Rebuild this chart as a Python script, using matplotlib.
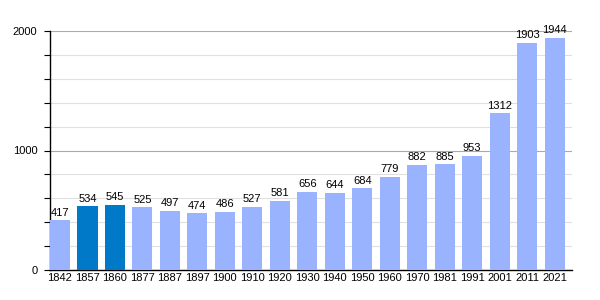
import matplotlib
matplotlib.use("Agg")
import matplotlib.pyplot as plt
from matplotlib.ticker import MultipleLocator

years = ["1842", "1857", "1860", "1877", "1887", "1897", "1900", "1910", "1920", "1930",
         "1940", "1950", "1960", "1970", "1981", "1991", "2001", "2011", "2021"]
population = [417, 534, 545, 525, 497, 474, 486, 527, 581, 656,
              644, 684, 779, 882, 885, 953, 1312, 1903, 1944]
highlight = ["1857", "1860"]

plt.rcParams['font.family'] = ['Liberation Sans', 'DejaVu Sans']
fig = plt.figure(figsize=(6, 3), dpi=100)
ax = fig.add_axes([50/600, 30/300, 522/600, 239/300])

colors = ["#0079c9" if y in highlight else "#99b3ff" for y in years]
x = list(range(len(years)))
w = 0.73
ax.bar(x, population, width=w, color=colors, zorder=3)
for xi, v in zip(x, population):
    ax.text(xi, v + 22, str(v), ha="center", va="bottom", fontsize=8, zorder=4)

ax.set_xlim(-w/2, len(years) - w/2)
ax.set_ylim(0, 2000)
ax.set_xticks(x)
ax.set_xticklabels(years, fontsize=8)
ax.yaxis.set_major_locator(MultipleLocator(1000))
ax.yaxis.set_minor_locator(MultipleLocator(200))
ax.tick_params(axis="y", which="major", labelsize=8, length=4, width=0.8, pad=5)
ax.tick_params(axis="y", which="minor", length=4, width=0.8)
ax.tick_params(axis="x", length=0, pad=2)
ax.grid(axis="y", which="major", color="#aaaaaa", linewidth=0.8, zorder=0)
ax.grid(axis="y", which="minor", color="#e0e0e0", linewidth=0.8, zorder=0)
for s in ["top", "right"]:
    ax.spines[s].set_visible(False)
ax.spines["left"].set_linewidth(1)
ax.spines["bottom"].set_linewidth(1)

fig.savefig("out.png", dpi=100)
